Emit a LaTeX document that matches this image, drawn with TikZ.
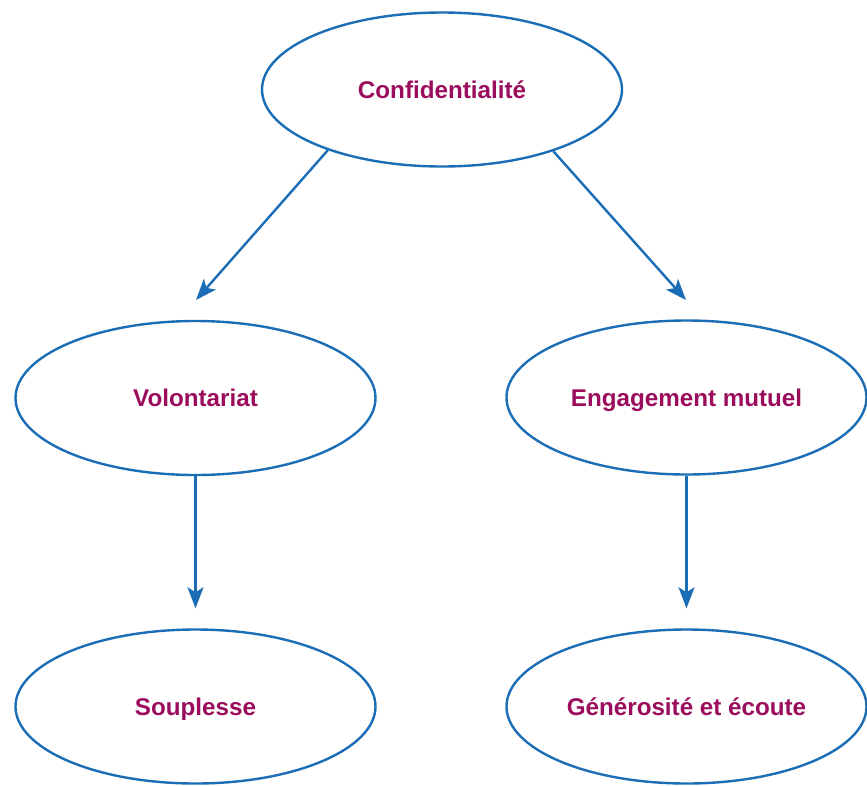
\documentclass[tikz,border=0pt]{standalone}
\usepackage{fontspec}
\setmainfont{Liberation Sans}
\usetikzlibrary{shapes.geometric,arrows.meta}
\definecolor{eblue}{HTML}{1B6DB5}
\definecolor{etext}{HTML}{9B0D5C}
\begin{document}
\begin{tikzpicture}[x=1pt,y=-1pt,
  oval/.style={ellipse,draw=eblue,line width=2.4pt,inner sep=0pt,
    minimum width=360pt,minimum height=154pt,
    text height=17.3pt,text depth=0pt,
    font=\fontsize{24.2}{29}\selectfont\bfseries,text=etext},
  arr/.style={draw=eblue,line width=2.4pt,-{Stealth[length=21pt,width=16pt,inset=5pt]}}]
\useasboundingbox (0,0) rectangle (867,785);
\node[oval] (top) at (442,89.5) {Confidentialité};
\node[oval] (vol) at (195.5,398) {Volontariat};
\node[oval] (eng) at (686.5,397.5) {Engagement mutuel};
\node[oval] (sou) at (195.5,706.5) {Souplesse};
\node[oval] (gen) at (686.5,706.5) {Générosité et écoute};
\coordinate (t1) at (196,300);
\coordinate (t2) at (686,300);
\draw[arr] (top.208) -- (t1);
\draw[arr] (top.331.5) -- (t2);
\draw[arr] (vol.south) -- ([yshift=20pt]sou.north);
\draw[arr] (eng.south) -- ([yshift=20pt]gen.north);
\end{tikzpicture}
\end{document}
